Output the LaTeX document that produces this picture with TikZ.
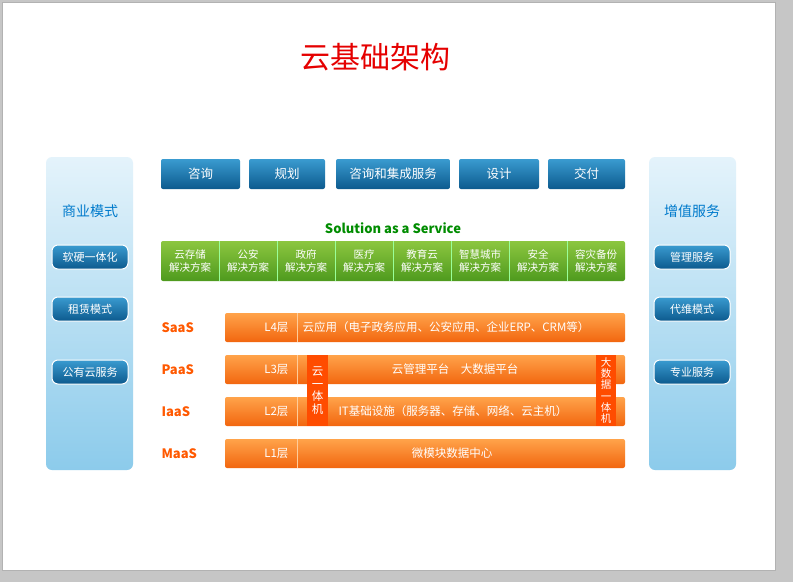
\documentclass[tikz,border=0pt]{standalone}
\usepackage{fontspec}
\setmainfont{Noto Sans CJK SC}
\definecolor{btop}{HTML}{3A9BD0}
\definecolor{bbot}{HTML}{0C5A8E}
\definecolor{ptop}{HTML}{E4F3FB}
\definecolor{pbot}{HTML}{8CCBEB}
\definecolor{gtop}{HTML}{8CC63F}
\definecolor{gbot}{HTML}{4E9A1E}
\definecolor{otop}{HTML}{FFA34A}
\definecolor{obot}{HTML}{F2660F}
\begin{document}
\begin{tikzpicture}[x=1pt,y=-1pt,
 panel/.style={rounded corners=6pt,top color=ptop,bottom color=pbot,draw=none},
 sidebtn/.style={rounded corners=6pt,top color=btop,bottom color=bbot,draw=white,line width=1pt,text=white,font=\fontsize{11}{13}\selectfont,minimum width=76pt,minimum height=24pt,inner sep=0pt},
 topbtn/.style={rounded corners=2pt,top color=btop,bottom color=bbot,text=white,font=\fontsize{12.5}{14}\selectfont,minimum height=30pt,inner sep=0pt},
 orangebar/.style={rounded corners=2pt,top color=otop,bottom color=obot,draw=none},
 lyr/.style={text=white,font=\fontsize{11.5}{13}\selectfont},
 lvl/.style={text=orange!70!red,font=\fontsize{13}{15}\selectfont\bfseries,anchor=west},
 vbox/.style={fill=orange!60!red,text=white,font=\fontsize{11.5}{12.5}\selectfont,align=center,inner sep=0pt},
 sect/.style={text=blue!40!cyan!80!black,font=\fontsize{14}{16}\selectfont}]
\useasboundingbox (0,0) rectangle (793,582);
\fill[gray!45] (0,0) rectangle (793,582);
\fill[white] (2,2) rectangle (775,570);
\draw[gray!60] (2,2) rectangle (775,570);
\node[text=red!90!black,font=\fontsize{30}{34}\selectfont] (title) at (375,57) {云基础架构};
% panels
\path[panel] (46,157) rectangle (133,470);
\path[panel] (649,157) rectangle (736,470);
\node[sect] (lt) at (90,211) {商业模式};
\node[sidebtn] (l1) at (90,257) {软硬一体化};
\node[sidebtn] (l2) at (90,309) {租赁模式};
\node[sidebtn] (l3) at (90,372) {公有云服务};
\node[sect] (rt) at (692,211) {增值服务};
\node[sidebtn] (r1) at (692,257) {管理服务};
\node[sidebtn] (r2) at (692,309) {代维模式};
\node[sidebtn] (r3) at (692,372) {专业服务};
% top buttons
\node[topbtn,minimum width=79pt] (t1) at (200.5,174) {咨询};
\node[topbtn,minimum width=76pt] (t2) at (287,174) {规划};
\node[topbtn,minimum width=114pt] (t3) at (393,174) {咨询和集成服务};
\node[topbtn,minimum width=80pt] (t4) at (499,174) {设计};
\node[topbtn,minimum width=77pt] (t5) at (586.5,174) {交付};
\node[text=green!55!black,font=\fontsize{13}{15}\selectfont\bfseries] (saas) at (393,228) {Solution as a Service};
% green bar
\path[rounded corners=2pt,top color=gtop,bottom color=gbot] (161,241) rectangle (625,281);
\foreach \t [count=\i] in {云存储,公安,政府,医疗,教育云,智慧城市,安全,容灾备份}{
  \pgfmathsetmacro\xx{161+58*(\i-1)+29}
  \node[text=white,font=\fontsize{10.5}{12.5}\selectfont,align=center] (g\i) at (\xx,261) {\t\\解决方案};
  \ifnum\i>1 \draw[white!60!green] ({161+58*(\i-1)},241) -- ({161+58*(\i-1)},281);\fi
}
% orange layers
\foreach \y/\l/\n in {313/L4/a,355/L3/b,397/L2/c,439/L1/d}{
  \path[orangebar] (225,\y) rectangle (625,\y+29);
  \draw[white!60!orange] (297,\y) -- (297,\y+29);
  \node[lyr,anchor=east] (\n) at (292,\y+14.5) {\l 层};
}
\node[lvl] (s1) at (158,328) {SaaS};
\node[lvl] (s2) at (158,370) {PaaS};
\node[lvl] (s3) at (158,412) {IaaS};
\node[lvl] (s4) at (158,454) {MaaS};
\node[lyr,anchor=west] (a4) at (299,327.5) {云应用（电子政务应用、公安应用、企业ERP、CRM等）};
\node[lyr] (a3) at (455,369.5) {云管理平台\quad 大数据平台};
\node[lyr] (a2) at (453,411.5) {IT基础设施（服务器、存储、网络、云主机）};
\node[lyr] (a1) at (452,453.5) {微模块数据中心};
\node[vbox,minimum width=21pt,minimum height=71pt] (v1) at (317.5,390.5) {云\\一\\体\\机};
\node[vbox,minimum width=20pt,minimum height=71pt,font=\fontsize{10.5}{11.2}\selectfont] (v2) at (606,390.5) {大\\数\\据\\一\\体\\机};
\end{tikzpicture}
\end{document}
